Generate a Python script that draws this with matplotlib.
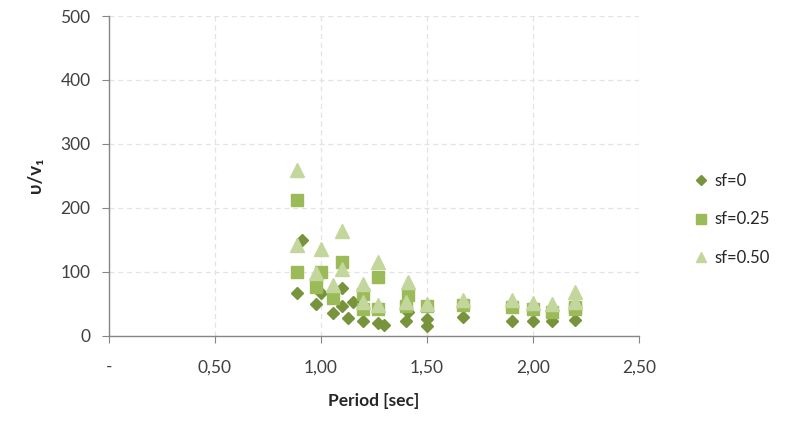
import numpy as np
import matplotlib.pyplot as plt
from matplotlib.ticker import FixedLocator, FuncFormatter

# data
period_sf0 = [0.89, 0.91, 0.98, 1.00, 1.06, 1.10, 1.10, 1.13, 1.15, 1.20, 1.27,
              1.30, 1.40, 1.41, 1.50, 1.50, 1.67, 1.90, 2.00, 2.09, 2.20]
ratio_sf0 = [67, 150, 49, 67, 36, 74, 46, 27, 52, 23, 19,
             16, 23, 37, 26, 15, 29, 23, 23, 22, 24]

period_sf025 = [0.89, 0.89, 0.98, 1.00, 1.06, 1.10, 1.20, 1.20, 1.27, 1.27,
                1.40, 1.41, 1.50, 1.67, 1.90, 2.00, 2.09, 2.20, 2.20]
ratio_sf025 = [212, 99, 76, 99, 59, 115, 65, 41, 92, 42,
               46, 63, 46, 47, 45, 41, 37, 41, 45]

period_sf050 = [0.89, 0.89, 0.98, 1.00, 1.06, 1.10, 1.10, 1.20, 1.20, 1.27, 1.27,
                1.40, 1.41, 1.50, 1.67, 1.90, 2.00, 2.09, 2.20, 2.20]
ratio_sf050 = [259, 141, 98, 136, 79, 163, 104, 81, 53, 115, 47,
               53, 83, 50, 55, 55, 51, 49, 68, 53]

series_labels = ['sf=0', 'sf=0.25', 'sf=0.50']
x_ticks = [0, 0.5, 1.0, 1.5, 2.0, 2.5]
y_ticks = [0, 100, 200, 300, 400, 500]

plt.rcParams['font.family'] = ['Lato', 'DejaVu Sans']

fig = plt.figure(figsize=(7.91, 4.26), dpi=100)
ax = fig.add_axes([0.1374, 0.2124, 0.6701, 0.75])

ax.plot(period_sf0, ratio_sf0, linestyle='none', marker='D', markersize=6.5,
        color='#77933C', label=series_labels[0], zorder=3)
ax.plot(period_sf025, ratio_sf025, linestyle='none', marker='s', markersize=9,
        color='#9BBB59', label=series_labels[1], zorder=4)
ax.plot(period_sf050, ratio_sf050, linestyle='none', marker='^', markersize=10,
        color='#C3D69B', label=series_labels[2], zorder=5)

ax.set_xlim(0, 2.5)
ax.set_ylim(0, 500)
ax.xaxis.set_major_locator(FixedLocator(x_ticks))
ax.yaxis.set_major_locator(FixedLocator(y_ticks))
ax.xaxis.set_major_formatter(FuncFormatter(
    lambda v, p: '-' if v == 0 else f'{v:.2f}'.replace('.', ',')))

ax.grid(True, linestyle=(0, (4, 3)), color='#E3E3E3', linewidth=0.9)
ax.set_axisbelow(True)
for s in ['top', 'right']:
    ax.spines[s].set_visible(False)
for s in ['left', 'bottom']:
    ax.spines[s].set_color('#868686')
    ax.spines[s].set_linewidth(1.0)

ax.tick_params(axis='both', colors='#868686', labelcolor='#404040',
               labelsize=12.5, length=5)
ax.tick_params(axis='x', pad=12)
ax.tick_params(axis='y', pad=8)

ax.set_xlabel('Period [sec]', fontsize=12.5, fontweight='bold',
              color='#262626', labelpad=13)
ax.set_ylabel('υ/v₁', fontsize=13.5, fontweight='bold',
              color='#262626', labelpad=12)

fig.legend(loc='center left', bbox_to_anchor=(0.85, 0.485), frameon=False,
           fontsize=12, labelspacing=1.35, handletextpad=0.0,
           markerscale=0.75, labelcolor='#262626', handlelength=1.6)

fig.savefig('out.png', dpi=100)
